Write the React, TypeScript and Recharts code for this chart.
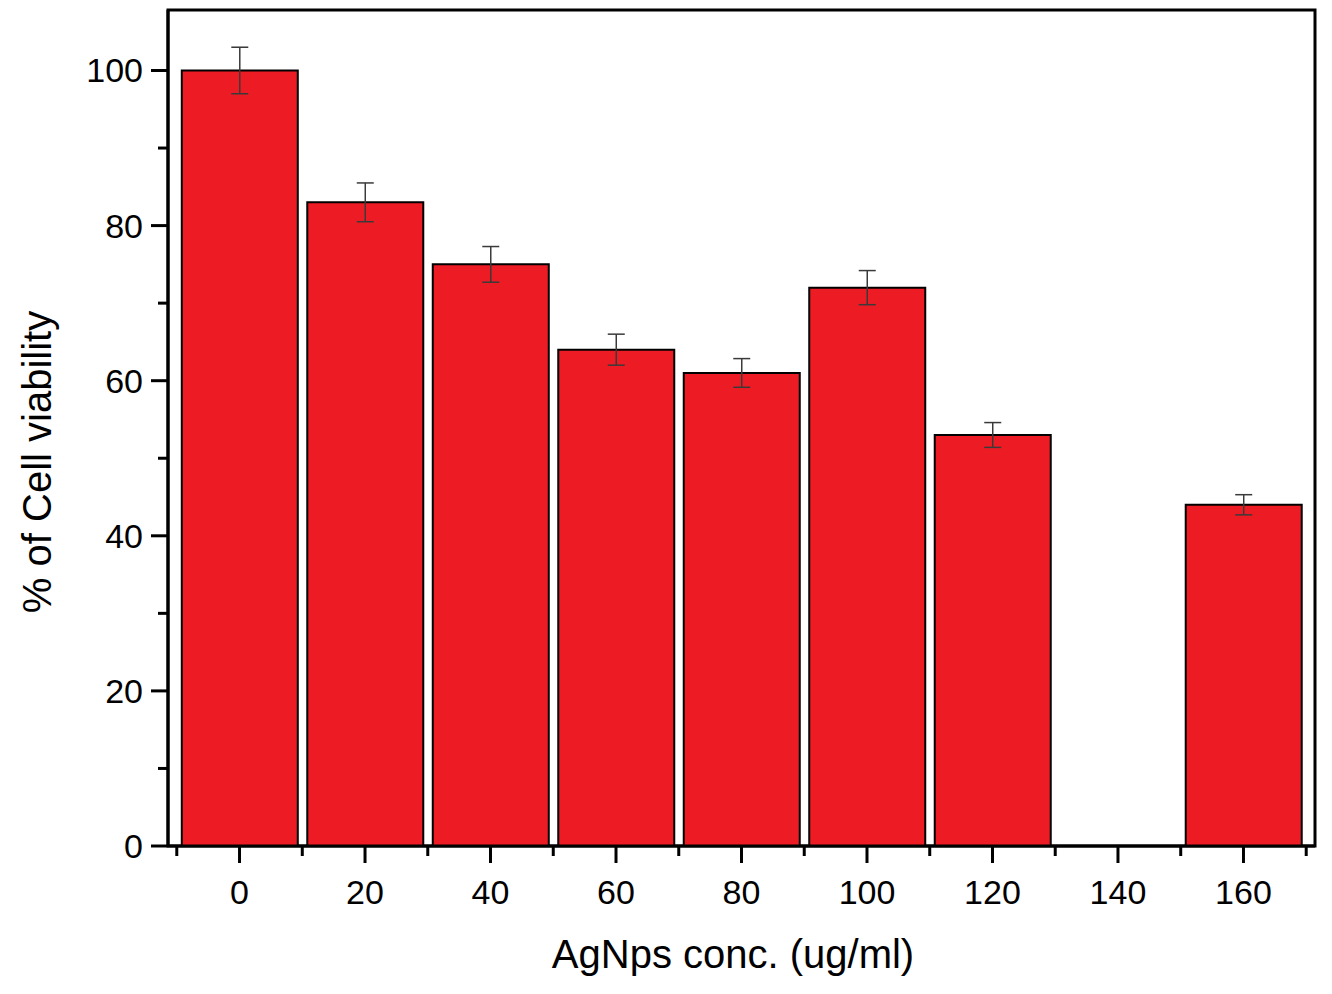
import { BarChart, Bar, XAxis, YAxis, ErrorBar, ReferenceArea } from 'recharts';

// AgNps concentration (ug/ml) -- 140 has no bar in the source figure
const concentrations = [0, 20, 40, 60, 80, 100, 120, 160];
const viability = [100, 83, 75, 64, 61, 72, 53, 44];
const viabilityErr = [3, 2.5, 2.3, 2, 1.85, 2.2, 1.6, 1.3];

const xMajorTicks = [0, 20, 40, 60, 80, 100, 120, 140, 160];
const xMinorTicks = [-10, 10, 30, 50, 70, 90, 110, 130, 150, 170];
const yMajorTicks = [0, 20, 40, 60, 80, 100];
const yMinorTicks = [10, 30, 50, 70, 90];

const X_DOMAIN: [number, number] = [-11.4, 171.4];
const Y_DOMAIN: [number, number] = [0, 107.8];

const FONT = '"Liberation Sans", Arial, Helvetica, sans-serif';

const data = concentrations.map((c, i) => ({ conc: c, value: viability[i], err: viabilityErr[i] }));

function XTick(props: any) {
  const { x, y, payload } = props;
  const major = xMajorTicks.includes(payload.value);
  return (
    <g>
      <line x1={x} x2={x} y1={y} y2={y + (major ? 17 : 10)} stroke="#000" strokeWidth={3} />
      {major && (
        <text x={x} y={y + 58} textAnchor="middle" fontSize={34} fontFamily={FONT} fill="#000">
          {payload.value}
        </text>
      )}
    </g>
  );
}

function YTick(props: any) {
  const { x, y, payload } = props;
  const major = yMajorTicks.includes(payload.value);
  return (
    <g>
      <line x1={x} x2={x - (major ? 17 : 10)} y1={y} y2={y} stroke="#000" strokeWidth={3} />
      {major && (
        <text x={x - 25} y={y + 12} textAnchor="end" fontSize={34} fontFamily={FONT} fill="#000">
          {payload.value}
        </text>
      )}
    </g>
  );
}

export default function App() {
  return (
    <div style={{ width: 1332, height: 994, background: '#fff' }}>
      <style>{`body{margin:0}`}</style>
      <BarChart
        width={1332}
        height={994}
        data={data}
        margin={{ top: 10, right: 17, left: 0, bottom: 0 }}
      >
        <XAxis
          dataKey="conc"
          type="number"
          domain={X_DOMAIN}
          allowDataOverflow
          ticks={[...xMinorTicks, ...xMajorTicks].sort((a, b) => a - b)}
          interval={0}
          tickSize={0}
          tickMargin={0}
          tickLine={false}
          tick={<XTick />}
          axisLine={{ stroke: '#000', strokeWidth: 3 }}
          height={148}
        />
        <YAxis
          type="number"
          domain={Y_DOMAIN}
          allowDataOverflow
          ticks={[...yMinorTicks, ...yMajorTicks].sort((a, b) => a - b)}
          interval={0}
          tickSize={0}
          tickMargin={0}
          tickLine={false}
          tick={<YTick />}
          axisLine={{ stroke: '#000', strokeWidth: 3 }}
          width={168}
        />
        <ReferenceArea
          x1={X_DOMAIN[0]}
          x2={X_DOMAIN[1]}
          y1={Y_DOMAIN[0]}
          y2={Y_DOMAIN[1]}
          fill="none"
          stroke="#000"
          strokeWidth={3}
          fillOpacity={0}
        />
        <Bar dataKey="value" fill="#ED1C24" stroke="#000" strokeWidth={2} barSize={116} isAnimationActive={false}>
          <ErrorBar dataKey="err" direction="y" width={8.5} stroke="#3a3a3a" strokeWidth={1.5} />
        </Bar>
        <text x={733} y={968} textAnchor="middle" fontSize={40} fontFamily={FONT} fill="#000">
          AgNps conc. (ug/ml)
        </text>
        <text
          x={51}
          y={462}
          transform="rotate(-90 51 462)"
          textAnchor="middle"
          fontSize={40}
          fontFamily={FONT}
          fill="#000"
        >
          % of Cell viability
        </text>
      </BarChart>
    </div>
  );
}
